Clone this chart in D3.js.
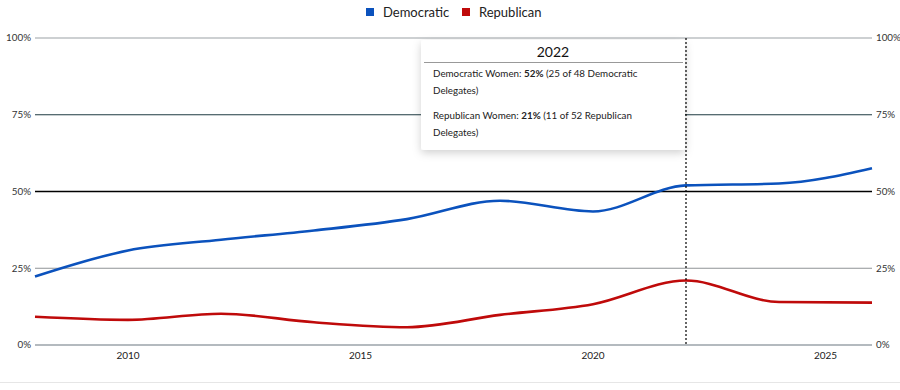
<!DOCTYPE html>
<html>
<head>
<meta charset="utf-8">
<script src="https://cdn.jsdelivr.net/npm/d3@7"></script>
<style>
  body { margin: 0; background: #fff; font-family: Lato, "Open Sans", sans-serif; }
  svg { display: block; }
</style>
</head>
<body>
<script>
// DATA
const years = [2008, 2010, 2012, 2014, 2016, 2018, 2020, 2022, 2024, 2026];
const democratic = [22.3, 30.8, 34.3, 37.3, 41, 47, 43.5, 52, 52.6, 57.6];
const republican = [9.2, 8.2, 10.2, 7.4, 5.8, 9.8, 13.3, 21, 14, 13.8];
const yTicks = [0, 25, 50, 75, 100];
const xTicks = [2010, 2015, 2020, 2025];
const seriesNames = ["Democratic", "Republican"];
const seriesColors = ["#0b52bd", "#bf0a0a"];
const gridColors = {0: "#6b7780", 25: "#8f9396", 50: "#000000", 75: "#1f3b42", 100: "#9ba1a6"};
const hoverYear = 2022;
const tipTitle = "2022";
const tipLines = [
  [["Democratic Women: ", false], ["52%", true], [" (25 of 48 Democratic", false]],
  [["Delegates)", false]],
  null,
  [["Republican Women: ", false], ["21%", true], [" (11 of 52 Republican", false]],
  [["Delegates)", false]]
];

// SIZES
const width = 900, height = 390;
const margin = {top: 38, right: 28, bottom: 45, left: 35};
const graphwidth = width - margin.left - margin.right;
const graphheight = height - margin.top - margin.bottom;

const svg = d3.select("body").append("svg")
  .attr("width", width)
  .attr("height", height);

// SCALES
const X = d3.scaleLinear().domain([2008, 2026]).range([margin.left, margin.left + graphwidth]);
const Y = d3.scaleLinear().domain([0, 100]).range([margin.top + graphheight, margin.top]);

// GRIDLINES + LABELS
svg.append("g").selectAll("line").data(yTicks).enter().append("line")
  .attr("x1", X(2008)).attr("x2", X(2026))
  .attr("y1", d => Y(d)).attr("y2", d => Y(d))
  .attr("stroke", d => gridColors[d])
  .attr("stroke-width", d => d == 50 ? 1.3 : 1.2);

const labelStyle = sel => sel
  .attr("font-size", 9.8).attr("fill", "#333").attr("dy", "0.35em");

svg.append("g").selectAll("text").data(yTicks).enter().append("text")
  .attr("x", margin.left - 4).attr("y", d => Y(d))
  .attr("text-anchor", "end").text(d => d + "%").call(labelStyle);

svg.append("g").selectAll("text").data(yTicks).enter().append("text")
  .attr("x", X(2026) + 4).attr("y", d => Y(d))
  .attr("text-anchor", "start").text(d => d + "%").call(labelStyle);

// X AXIS LABELS
svg.append("g").selectAll("text").data(xTicks).enter().append("text")
  .attr("x", d => X(d)).attr("y", Y(0) + 14)
  .attr("text-anchor", "middle").attr("font-size", 10).attr("fill", "#222")
  .text(d => d);

// faint bottom border
svg.append("line")
  .attr("x1", 0).attr("x2", width).attr("y1", 382.5).attr("y2", 382.5)
  .attr("stroke", "#e6e6e6").attr("stroke-width", 1);

// LINES
const line = d3.line()
  .x((d, i) => X(years[i]))
  .y(d => Y(d))
  .curve(d3.curveMonotoneX);

[democratic, republican].forEach((s, i) => {
  svg.append("path").datum(s)
    .attr("d", line)
    .attr("fill", "none")
    .attr("stroke", seriesColors[i])
    .attr("stroke-width", 2.6);
});

// HOVER LINE
svg.append("line")
  .attr("x1", X(hoverYear)).attr("x2", X(hoverYear))
  .attr("y1", Y(100)).attr("y2", Y(0))
  .attr("stroke", "#000").attr("stroke-width", 1.2)
  .attr("stroke-dasharray", "2,2");

// TOOLTIP
const defs = svg.append("defs");
const filt = defs.append("filter").attr("id", "shadow")
  .attr("x", "-10%").attr("y", "-10%").attr("width", "120%").attr("height", "130%");
filt.append("feDropShadow").attr("dx", 0).attr("dy", 3).attr("stdDeviation", 4)
  .attr("flood-color", "#000").attr("flood-opacity", 0.18);

const tip = svg.append("g").attr("transform", "translate(421,40)");
tip.append("rect").attr("width", 264).attr("height", 110).attr("rx", 3)
  .attr("fill", "#fff").attr("filter", "url(#shadow)");
tip.append("text").attr("x", 132).attr("y", 17)
  .attr("text-anchor", "middle").attr("font-size", 14).attr("fill", "#111")
  .text(tipTitle);
tip.append("line").attr("x1", 3).attr("x2", 262).attr("y1", 22.5).attr("y2", 22.5)
  .attr("stroke", "#999").attr("stroke-width", 1);

const lineYs = [37, 54, 0, 79, 96];
tipLines.forEach((parts, i) => {
  if (!parts) return;
  const t = tip.append("text").attr("x", 12).attr("y", lineYs[i])
    .attr("font-size", 9.8).attr("fill", "#222");
  parts.forEach(p => {
    t.append("tspan").attr("font-weight", p[1] ? "bold" : "normal").text(p[0]);
  });
});

// LEGEND
const legend = svg.append("g");
const legendX = [366, 462];
seriesNames.forEach((n, i) => {
  legend.append("rect")
    .attr("x", legendX[i]).attr("y", 8).attr("width", 8).attr("height", 8)
    .attr("fill", seriesColors[i]);
  legend.append("text")
    .attr("x", legendX[i] + 17).attr("y", 17)
    .attr("font-size", 13).attr("fill", "#222")
    .text(n);
});
</script>
</body>
</html>
